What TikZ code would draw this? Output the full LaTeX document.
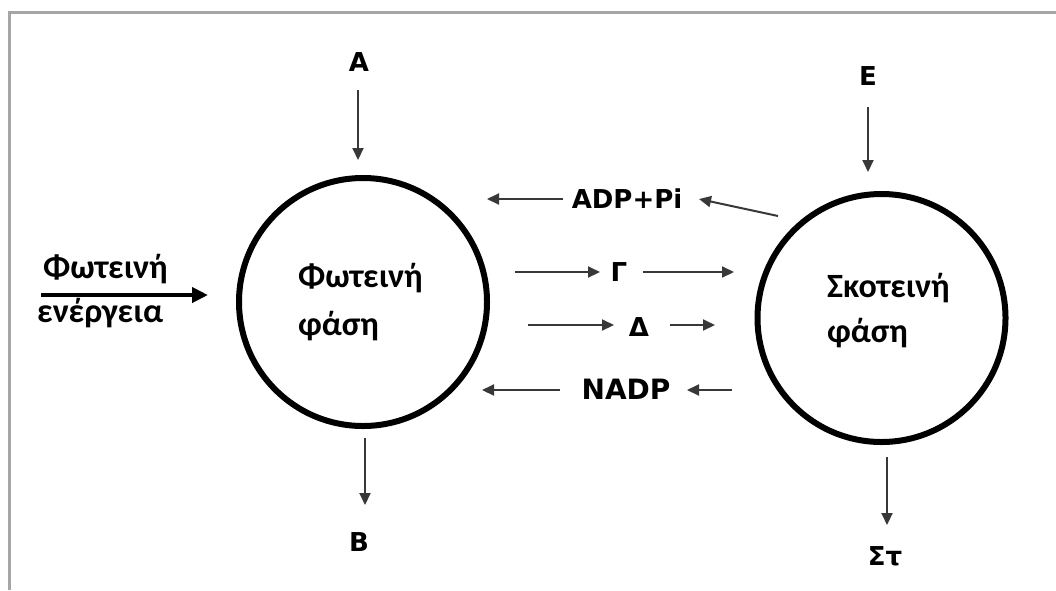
\documentclass[tikz,border=0pt]{standalone}
\usepackage{fontspec}
\setmainfont{Carlito}
\newfontfamily\grkfont{Carlito}
\newfontfamily\labfont{DejaVu Sans}
\usetikzlibrary{arrows.meta}

\tikzset{
  frameline/.style={draw=black!35, line width=3pt},
  phase/.style={circle, draw=black, line width=6pt, minimum size=248pt, inner sep=0pt},
  flow/.style={draw=black!78, line width=2pt, -{Triangle[length=12pt,width=11pt]}},
  lightflow/.style={draw=black, line width=4pt, -{Triangle[length=16pt,width=15pt]}},
  lab/.style={font=\labfont\bfseries\fontsize{26}{30}\selectfont, inner sep=0pt},
  grk/.style={font=\grkfont\bfseries\fontsize{34}{40}\selectfont, inner sep=0pt, anchor=base west},
}

\begin{document}
\begin{tikzpicture}[x=1pt, y=-1pt]
  \useasboundingbox (0,0) rectangle (1056,590);
  % frame
  \draw[frameline] (9,590) -- (9,12) -- (1056,12);

  % the two phases
  \node[phase] (light) at (363,302) {};
  \node[phase] (dark) at (881.5,318) {};
  \node[grk] (lt1) at (298,287) {Φωτεινή};
  \node[grk] (lt2) at (298,335) {φάση};
  \node[grk] (dt1) at (827,297) {Σκοτεινή};
  \node[grk] (dt2) at (827,342) {φάση};

  % light energy input
  \node[grk] (le1) at (43,278) {Φωτεινή};
  \node[grk] (le2) at (37,322) {ενέργεια};
  \coordinate (le0) at (41,295);
  \coordinate (le9) at (208,295);
  \draw[lightflow] (le0) -- (le9);

  % inputs and outputs
  \node[lab] (A) at (359,62) {A};
  \node[lab] (B) at (359,542) {B};
  \node[lab] (E) at (868,76) {E};
  \node[lab] (St) at (885,556) {Στ};
  \coordinate (a0) at (358,90);   \coordinate (a9) at (358,160);
  \coordinate (b0) at (365,438);  \coordinate (b9) at (365,505);
  \coordinate (e0) at (868,107);  \coordinate (e9) at (868,172);
  \coordinate (s0) at (887,457);  \coordinate (s9) at (887,525);
  \draw[flow] (a0) -- (a9);
  \draw[flow] (b0) -- (b9);
  \draw[flow] (e0) -- (e9);
  \draw[flow] (s0) -- (s9);

  % exchange between the phases
  \node[lab] (adp) at (627,199) {ADP+Pi};
  \node[lab] (G) at (619,272) {Γ};
  \node[lab] (D) at (639,327) {Δ};
  \node[lab, font=\labfont\bfseries\fontsize{28}{32}\selectfont] (nadp) at (626,389) {NADP};

  \coordinate (p1) at (563,199);  \coordinate (p2) at (487,199);
  \coordinate (p3) at (778,216);  \coordinate (p4) at (699,199);
  \draw[flow] (p1) -- (p2);
  \draw[flow] (p3) -- (p4);

  \coordinate (g1) at (515,272);  \coordinate (g2) at (600,272);
  \coordinate (g3) at (643,272);  \coordinate (g4) at (734,272);
  \draw[flow] (g1) -- (g2);
  \draw[flow] (g3) -- (g4);

  \coordinate (d1) at (528,325);  \coordinate (d2) at (614,325);
  \coordinate (d3) at (670,325);  \coordinate (d4) at (715,325);
  \draw[flow] (d1) -- (d2);
  \draw[flow] (d3) -- (d4);

  \coordinate (n1) at (560,390);  \coordinate (n2) at (482,390);
  \coordinate (n3) at (732,390);  \coordinate (n4) at (687,390);
  \draw[flow] (n1) -- (n2);
  \draw[flow] (n3) -- (n4);
\end{tikzpicture}
\end{document}
